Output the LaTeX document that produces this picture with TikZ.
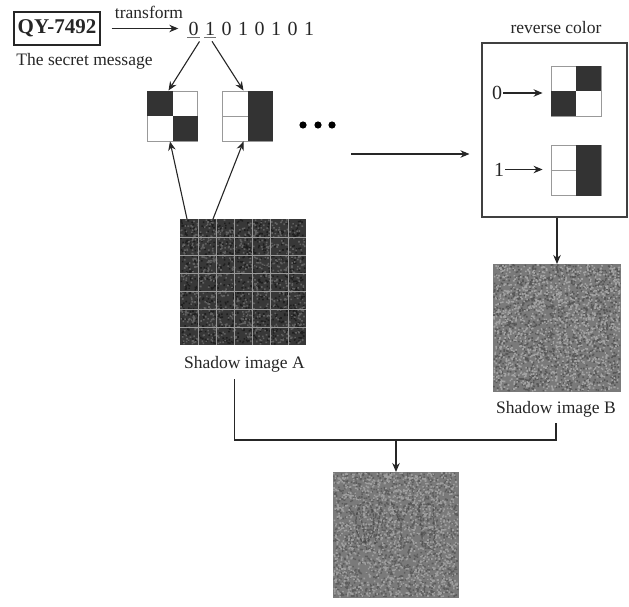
\documentclass[tikz,border=0pt]{standalone}
\usepackage{fontspec}
\setmainfont{Liberation Serif}
\usetikzlibrary{arrows.meta}
\tikzset{
  label text/.style = {inner sep = 1pt, text = black!85, font = \fontsize{#1}{#1}\selectfont},
  cell box/.style = {draw = black!40, line width = .9pt, minimum size = 50pt, inner sep = 0pt},
  noise box/.style = {minimum size = #1, inner sep = 0pt, outer sep = 0pt},
  link/.style = {-{Stealth[length = 9pt, width = 7.5pt]}, line width = 1.1pt, black!85},
  dark cell/.style = {fill = black!80}
}
% grey grains on a named square: node, side, base, dark, light, grains
\newcommand{\grainfill}[6]{
  \fill [black!#3] (#1.north west) rectangle (#1.south east);
  \begin{scope}[shift = {(#1.north west)}]
  \fill [black!#4] \foreach \n in {1,...,#6}
    { ({rnd*(#2-2)},{rnd*(#2-2)}) rectangle +(1.6,1.6) };
  \fill [black!#5] \foreach \n in {1,...,#6}
    { ({rnd*(#2-2)},{rnd*(#2-2)}) rectangle +(1.6,1.6) };
  \end{scope}
}
\begin{document}
\begin{tikzpicture}[x = 1pt, y = -1pt]
  \useasboundingbox (0,0) rectangle (629,607);
  \pgfmathsetseed{7492}
  % the message and its bits
  \node [draw, black!85, line width = 1.2pt, inner sep = 0pt, minimum width = 86pt, minimum height = 33pt,
         font = \fontsize{21}{21}\selectfont\bfseries] (secret) at (57,28.5) {QY-7492};
  \node [label text = 17.5] (secretlabel) at (84.5,61) {The secret message};
  \node [label text = 17.5] (transform) at (149,12) {transform};
  \foreach \b [count = \n from 0] in {0,1,0,1,0,1,0,1}
    \node [label text = 20] (bit\n) at ({193.5 + \n*16.5},28.5) {\b};
  \draw [black!55, line width = 1.2pt] ([yshift = -1pt]bit0.south west) -- ([yshift = -1pt]bit0.south east);
  \draw [black!55, line width = 1.2pt] ([yshift = -1pt]bit1.south west) -- ([yshift = -1pt]bit1.south east);
  \draw [link, shorten < = 11pt, shorten > = 9pt] (secret) -- (bit0);
  % sub-pixel blocks of shadow A
  \node [cell box] (blockzero) at (172.5,116) {};
  \node [cell box] (blockone) at (247.5,116) {};
  \fill [dark cell] (blockzero.north west) rectangle (blockzero.center);
  \fill [dark cell] (blockzero.center) rectangle (blockzero.south east);
  \fill [dark cell] (blockone.north) rectangle (blockone.south east);
  \draw [black!40] (blockone.west) -- (blockone.center);
  \draw [link] ([shift = {(6,5)}]bit0.south) -- ([xshift = -4pt]blockzero.north);
  \draw [link] ([shift = {(2,5)}]bit1.south) -- ([xshift = -4pt]blockone.north);
  \foreach \x [count = \n] in {303,318,332}
    \fill (\x,125) circle (3.6);
  % shadow image A
  \node [noise box = 126pt] (shadowA) at (243,282) {};
  \grainfill{shadowA}{126}{78}{88}{62}{1000}
  \foreach \k in {1,...,6}
    {
      \draw [black!40, line width = .9pt] (shadowA.north west) ++ (\k*18,0) -- ++ (0,126);
      \draw [black!40, line width = .9pt] (shadowA.north west) ++ (0,\k*18) -- ++ (126,0);
    }
  \node [label text = 17.5] (labelA) at (244.5,364) {Shadow image A};
  \draw [link] ([xshift = -56pt]shadowA.north) -- ([xshift = -2.5pt]blockzero.south);
  \draw [link] ([xshift = -30pt]shadowA.north) -- ([xshift = -4pt]blockone.south);
  % reverse color box
  \node [draw, black!75, line width = 1.1pt, minimum width = 145pt, minimum height = 174pt, inner sep = 0pt] (reverse) at (554.5,130) {};
  \node [label text = 17.5] (reverselabel) at (556,28) {reverse color};
  \node [cell box] (blockrevzero) at (576,91) {};
  \node [cell box] (blockrevone) at (576,170.5) {};
  \fill [dark cell] (blockrevzero.north) rectangle (blockrevzero.east);
  \fill [dark cell] (blockrevzero.west) rectangle (blockrevzero.south);
  \fill [dark cell] (blockrevone.north) rectangle (blockrevone.south east);
  \draw [black!40] (blockrevone.west) -- (blockrevone.center);
  \node [label text = 20] (revzero) at (497,93) {0};
  \node [label text = 20] (revone) at (499,169.5) {1};
  \draw [link] (revzero) -- ([xshift = -8pt]revzero -| blockrevzero.west);
  \draw [link] (revone) -- ([xshift = -8pt]revone -| blockrevone.west);
  \coordinate (dotsend) at (351,154);
  \draw [link] (dotsend) -- ([xshift = -12pt]dotsend -| reverse.west);
  % shadow image B
  \node [noise box = 128pt] (shadowB) at (557,328) {};
  \grainfill{shadowB}{128}{52}{66}{36}{1500}
  \node [label text = 17.5] (labelB) at (556,409) {Shadow image B};
  \draw [link] (reverse.south -| shadowB.north) -- (shadowB.north);
  % stacked result
  \node [noise box = 126pt] (result) at (396,535) {};
  \grainfill{result}{126}{52}{64}{38}{1500}
  \begin{scope}[shift = {(result.north west)}, black!75, opacity = .6, line width = 1.3pt, dash pattern = on 3pt off 1.5pt]
  \draw (32,50) ellipse (9 and 20);
  \draw (26,35) -- (34,78) (48,35) -- (42,72);
  \draw (58,30) -- (68,52) -- (78,30) (68,52) -- (68,78);
  \draw (86,33) -- (90,75) (100,32) -- (102,72) (86,33) -- (100,32);
  \end{scope}
  \coordinate (stack) at (396,440);
  \draw [black!85, line width = 1.1pt] ([shift = {(-10,6)}]labelA.south) |- (stack) -| ([yshift = -5pt]labelB.south);
  \draw [link] (stack) -- (result.north);
\end{tikzpicture}
\end{document}
